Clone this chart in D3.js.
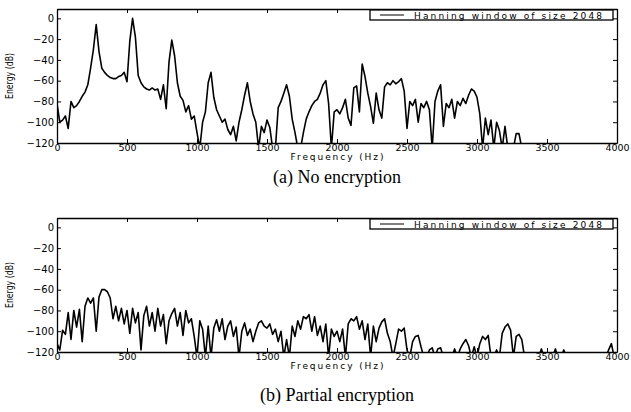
<!DOCTYPE html>
<html>
<head>
<meta charset="utf-8">
<script src="https://cdn.jsdelivr.net/npm/d3@7"></script>
<style>
  body { margin: 0; background: #fff; }
  svg text { font-family: "DejaVu Sans", Verdana, sans-serif; fill: #000; }
  .caption { font-family: "Liberation Serif", "Times New Roman", serif; font-size: 18px; }
</style>
</head>
<body>
<div class="chart"></div>
<script>
var svgWidth = 631;
var svgHeight = 412;

// spectrum bins are 20 Hz apart, starting at 0 Hz
var binHz = 20;

var freqTicks = [0, 500, 1000, 1500, 2000, 2500, 3000, 3500, 4000];
var energyTicks = [0, -20, -40, -60, -80, -100, -120];
var legendLabel = "Hanning window of size 2048";
var xLabel = "Frequency (Hz)";
var yLabel = "Energy (dB)";
var captions = ["(a) No encryption", "(b) Partial encryption"];

// (a) energy in dB, 0 .. 3340 Hz
var noEncryption = [
  -82, -100, -98, -94, -106, -80, -86, -84, -80, -75,
  -71, -64, -48, -30, -6, -32, -48, -52, -55, -57,
  -58, -58, -56, -55, -52, -61, -22, 0, -18, -55,
  -62, -66, -68, -69, -67, -69, -68, -78, -64, -87,
  -42, -21, -36, -62, -75, -79, -90, -84, -97, -94,
  -110, -125, -100, -90, -62, -52, -76, -88, -94, -100,
  -97, -107, -112, -104, -118, -100, -88, -74, -62, -80,
  -92, -100, -125, -104, -110, -98, -105, -125, -125, -86,
  -80, -72, -64, -75, -97, -110, -125, -125, -110, -97,
  -90, -84, -80, -78, -72, -64, -60, -82, -125, -90,
  -88, -92, -86, -78, -96, -103, -67, -65, -90, -44,
  -56, -72, -85, -101, -72, -88, -96, -66, -62, -64,
  -60, -63, -61, -58, -70, -106, -80, -84, -78, -100,
  -82, -86, -80, -88, -125, -80, -70, -64, -104, -82,
  -86, -78, -96, -80, -84, -77, -82, -74, -68, -70,
  -76, -92, -125, -96, -112, -98, -125, -100, -108, -125,
  -104, -125, -125, -125, -111, -111, -125, -125
];

// (b) energy in dB, 0 .. 4000 Hz
var partialEncryption = [
  -112, -118, -99, -103, -82, -108, -80, -96, -79, -110,
  -76, -68, -73, -68, -100, -67, -60, -60, -62, -68,
  -88, -76, -90, -78, -93, -80, -102, -78, -92, -82,
  -118, -85, -76, -95, -82, -100, -78, -95, -84, -112,
  -90, -83, -78, -95, -82, -104, -80, -92, -88, -105,
  -125, -90, -98, -125, -95, -125, -97, -89, -100, -88,
  -108, -95, -90, -105, -96, -125, -100, -92, -104, -98,
  -110, -100, -92, -90, -95, -97, -93, -103, -98, -110,
  -100, -125, -108, -125, -95, -105, -90, -98, -86, -88,
  -84, -100, -86, -104, -95, -110, -93, -125, -98, -105,
  -100, -110, -98, -125, -93, -88, -90, -86, -98, -90,
  -108, -93, -125, -95, -110, -97, -91, -88, -102, -110,
  -125, -112, -98, -100, -97, -118, -125, -110, -105, -104,
  -115, -125, -125, -118, -116, -125, -117, -116, -125, -125,
  -125, -125, -117, -125, -117, -112, -108, -114, -125, -115,
  -125, -112, -105, -108, -104, -125, -125, -118, -125, -102,
  -96, -93, -99, -125, -105, -103, -108, -125, -125, -125,
  -125, -125, -125, -117, -125, -125, -125, -125, -117, -125,
  -125, -118, -125, -125, -125, -125, -125, -125, -125, -125,
  -125, -125, -125, -125, -125, -125, -125, -118, -112, -125,
  -125
];

var panels = [
  { id: "a", data: noEncryption, top: 9, bottom: 143, caption: captions[0], captionY: 183 },
  { id: "b", data: partialEncryption, top: 218, bottom: 352, caption: captions[1], captionY: 401 }
];

var plotLeft = 57;
var plotRight = 617;

var svg = d3
  .select(".chart")
  .append("svg")
  .attr("width", svgWidth)
  .attr("height", svgHeight);

var xScale = d3.scaleLinear()
  .domain([0, 4000])
  .range([plotLeft, plotRight]);

panels.forEach(function(p) {

  var yScale = d3.scaleLinear()
    .domain([-120, 9])
    .range([p.bottom, p.top]);

  var g = svg.append("g");

  // clip the trace to the axes box
  g.append("clipPath")
    .attr("id", "clip-" + p.id)
    .append("rect")
    .attr("x", plotLeft)
    .attr("y", p.top)
    .attr("width", plotRight - plotLeft)
    .attr("height", p.bottom - p.top);

  var line = d3.line()
    .x((d, i) => xScale(i * binHz))
    .y(d => yScale(d));

  g.append("path")
    .datum(p.data)
    .attr("clip-path", "url(#clip-" + p.id + ")")
    .attr("fill", "none")
    .attr("stroke", "#000")
    .attr("stroke-width", 1.6)
    .attr("stroke-linejoin", "round")
    .attr("d", line);

  // axes, ticks pointing inward on all four sides
  var bottomAxis = d3.axisBottom(xScale).tickValues(freqTicks)
    .tickFormat(d3.format("d"))
    .tickSizeInner(-4).tickSizeOuter(0).tickPadding(1);
  var topAxis = d3.axisTop(xScale).tickValues(freqTicks)
    .tickSizeInner(-4).tickSizeOuter(0).tickFormat("");
  var leftAxis = d3.axisLeft(yScale).tickValues(energyTicks)
    .tickSizeInner(-4).tickSizeOuter(0).tickPadding(3);
  var rightAxis = d3.axisRight(yScale).tickValues(energyTicks)
    .tickSizeInner(-4).tickSizeOuter(0).tickFormat("");

  var xAxisG = g.append("g").attr("transform", `translate(0, ${p.bottom})`).call(bottomAxis);
  g.append("g").attr("transform", `translate(0, ${p.top})`).call(topAxis);
  var yAxisG = g.append("g").attr("transform", `translate(${plotLeft}, 0)`).call(leftAxis);
  g.append("g").attr("transform", `translate(${plotRight}, 0)`).call(rightAxis);

  g.selectAll(".domain").attr("stroke", "#000").attr("stroke-width", 1.3);
  g.selectAll(".tick line").attr("stroke", "#000");
  g.selectAll(".tick text").attr("font-family", null);
  xAxisG.selectAll(".tick text").attr("font-size", 9.5);
  yAxisG.selectAll(".tick text").attr("font-size", 10);

  // axis titles
  g.append("text")
    .attr("x", (plotLeft + plotRight) / 2)
    .attr("y", p.bottom + 16.5)
    .attr("text-anchor", "middle")
    .attr("font-size", 9)
    .attr("textLength", 93)
    .attr("lengthAdjust", "spacing")
    .text(xLabel);

  g.append("text")
    .attr("transform", `translate(13, ${(p.top + p.bottom) / 2}) rotate(-90)`)
    .attr("text-anchor", "middle")
    .attr("font-family", "Liberation Sans, Arial, sans-serif")
    .attr("font-size", 10)
    .attr("textLength", 46)
    .attr("lengthAdjust", "spacingAndGlyphs")
    .text(yLabel);

  // legend box
  var legend = g.append("g")
    .attr("transform", `translate(370, ${p.top + 1})`);
  legend.append("rect")
    .attr("x", 0)
    .attr("y", 0)
    .attr("width", 243)
    .attr("height", 10)
    .attr("fill", "#fff")
    .attr("stroke", "#000")
    .attr("stroke-width", 1.3);
  legend.append("line")
    .attr("x1", 10).attr("x2", 34)
    .attr("y1", 5).attr("y2", 5)
    .attr("stroke", "#000")
    .attr("stroke-width", 1);
  legend.append("text")
    .attr("x", 44)
    .attr("y", 8.5)
    .attr("font-size", 9)
    .attr("textLength", 188)
    .attr("lengthAdjust", "spacing")
    .text(legendLabel);

  // caption under the panel
  svg.append("text")
    .attr("class", "caption")
    .attr("x", 337)
    .attr("y", p.captionY)
    .attr("text-anchor", "middle")
    .text(p.caption);
});
</script>
</body>
</html>
